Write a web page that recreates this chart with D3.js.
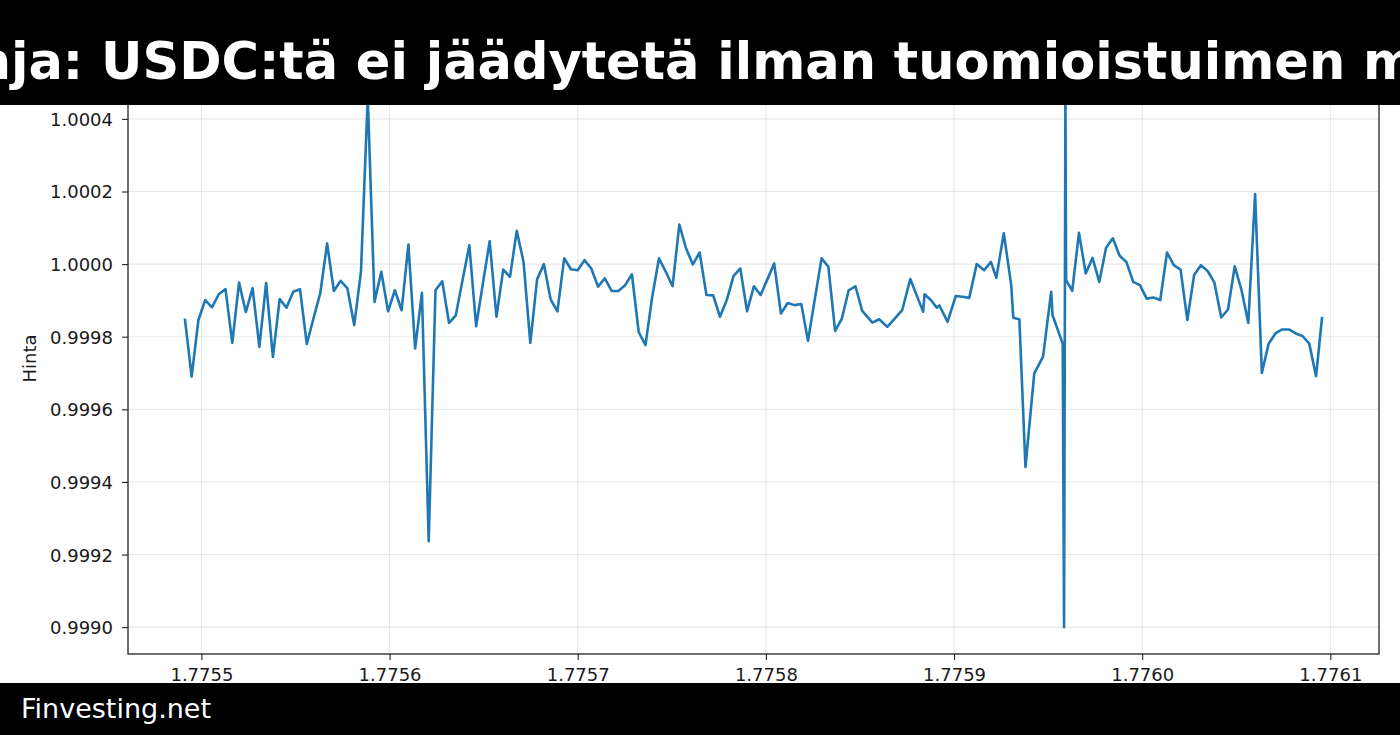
<!DOCTYPE html>
<html>
<head>
<meta charset="utf-8">
<title>USDC hinta</title>
<script src="https://cdn.jsdelivr.net/npm/d3@7/dist/d3.min.js"></script>
<style>
  html, body { margin: 0; padding: 0; background: #fff; }
  svg { display: block; font-family: 'DejaVu Sans', sans-serif; }
  .tick text { fill: #1a1a1a; font-size: 18px; }
</style>
</head>
<body>
<div id="chart"></div>
<script>
// hours since the first sample (start time below)
var startTime = 1775491200; // unix seconds
var hours = [
  0, 1, 2, 3, 4, 5, 6, 7, 8, 9, 10, 11, 12, 13, 14, 15, 16, 17, 18, 19,
  20, 21, 22, 23, 24, 25, 26, 27, 28, 29, 30, 31, 32, 33, 34, 35, 36, 37, 38, 39,
  40, 41, 42, 43, 44, 45, 46, 47, 48, 49, 50, 51, 52, 53, 54, 55, 56, 57, 58, 59,
  60, 61, 62, 63, 64, 65, 66, 67, 68, 69, 70, 71, 72, 73, 74, 75, 76, 77, 78, 79,
  80, 81, 82, 83, 84, 85, 86, 87, 88, 89, 90, 91, 92, 93, 94, 95, 96, 97, 98, 99,
  100, 101.5, 102.5, 103.7, 104.8, 105.9, 107.1, 108.0, 109.0, 109.2,
  110.2, 111.0, 111.4, 112.6, 113.8, 114.8, 115.8, 116.9, 118.0, 119.0,
  119.8, 120.9, 122.0, 122.3, 123.2, 124.1, 125.4, 126.7, 127.9, 128.1,
  129.6, 129.8, 130.0, 130.1, 131, 132, 133, 134, 135, 136, 137, 138, 139,
  140, 141, 142, 143, 144, 145, 146, 147, 148, 149, 150, 151, 152, 153, 154,
  155, 156, 157, 158, 159, 160, 161, 162, 163, 164, 165, 166, 167, 167.9
];
var prices = [
  0.999850, 0.999690, 0.999846, 0.999901, 0.999881, 0.999917, 0.999931, 0.999783, 0.999949, 0.999868,
  0.999934, 0.999772, 0.999948, 0.999744, 0.999904, 0.999880, 0.999924, 0.999931, 0.999780, 0.999851,
  0.999921, 1.000057, 0.999926, 0.999954, 0.999933, 0.999832, 0.999979, 1.000460, 0.999896, 0.999979,
  0.999870, 0.999928, 0.999873, 1.000054, 0.999768, 0.999921, 0.999237, 0.999928, 0.999953, 0.999838,
  0.999859, 0.999956, 1.000052, 0.999829, 0.999947, 1.000063, 0.999855, 0.999985, 0.999965, 1.000092,
  1.000006, 0.999783, 0.999958, 1.000000, 0.999903, 0.999870, 1.000016, 0.999986, 0.999983, 1.000011,
  0.999988, 0.999938, 0.999961, 0.999926, 0.999926, 0.999942, 0.999972, 0.999813, 0.999777, 0.999910,
  1.000016, 0.999979, 0.999939, 1.000109, 1.000043, 0.999999, 1.000032, 0.999915, 0.999914, 0.999855,
  0.999901, 0.999967, 0.999988, 0.999870, 0.999939, 0.999915, 0.999958, 1.000002, 0.999864, 0.999893,
  0.999887, 0.999890, 0.999789, 0.999903, 1.000016, 0.999993, 0.999816, 0.999850, 0.999928, 0.999939,
  0.999871, 0.999839, 0.999848, 0.999827, 0.999850, 0.999873, 0.999959, 0.999916, 0.999869, 0.999917,
  0.999900, 0.999880, 0.999886, 0.999841, 0.999912, 0.999910, 0.999907, 1.000000, 0.999983, 1.000006,
  0.999962, 1.000085, 0.999942, 0.999852, 0.999848, 0.999441, 0.999699, 0.999745, 0.999924, 0.999859,
  0.999781, 0.999000, 1.000480, 0.999956, 0.999926, 1.000086, 0.999974, 1.000017, 0.999951, 1.000045,
  1.000071, 1.000023, 1.000006, 0.999951, 0.999942, 0.999905, 0.999908, 0.999901, 1.000032, 0.999997,
  0.999985, 0.999846, 0.999970, 0.999997, 0.999981, 0.999949, 0.999853, 0.999875, 0.999994, 0.999928,
  0.999838, 1.000193, 0.999700, 0.999781, 0.999809, 0.999820, 0.999820, 0.999809, 0.999802, 0.999781,
  0.999691, 0.999855
];
var xTicks = [1.7755, 1.7756, 1.7757, 1.7758, 1.7759, 1.7760, 1.7761];
var yTicks = [0.9990, 0.9992, 0.9994, 0.9996, 0.9998, 1.0000, 1.0002, 1.0004];

var titleText = 'Circlen linja: USDC:tä ei jäädytetä ilman tuomioistuimen määräystä';
var yLabel = 'Hinta';
var footer = 'Finvesting.net';

var width = 1400, height = 735;
var margin = { top: 63, right: 21, bottom: 81, left: 128 };
var plotW = width - margin.left - margin.right;
var plotH = height - margin.top - margin.bottom;

var data = hours.map(function(h, i) {
  return { x: (startTime + h * 3600) / 1e9, y: prices[i] };
});

// matplotlib style 5% margins around the data
function padded(ext) {
  var p = (ext[1] - ext[0]) * 0.05;
  return [ext[0] - p, ext[1] + p];
}

var x = d3.scaleLinear()
  .domain(padded(d3.extent(data, function(d) { return d.x; })))
  .range([0, plotW]);
var y = d3.scaleLinear()
  .domain(padded(d3.extent(data, function(d) { return d.y; })))
  .range([plotH, 0]);

var svg = d3.select('#chart').append('svg')
  .attr('width', width)
  .attr('height', height);

svg.append('defs').append('clipPath').attr('id', 'plot-clip')
  .append('rect').attr('width', plotW).attr('height', plotH);

var g = svg.append('g')
  .attr('transform', 'translate(' + margin.left + ',' + margin.top + ')');

// grid
g.append('g').selectAll('line').data(xTicks).enter().append('line')
  .attr('x1', x).attr('x2', x).attr('y1', 0).attr('y2', plotH)
  .attr('stroke', '#b0b0b0').attr('stroke-opacity', 0.3).attr('stroke-width', 1.1);
g.append('g').selectAll('line').data(yTicks).enter().append('line')
  .attr('y1', y).attr('y2', y).attr('x1', 0).attr('x2', plotW)
  .attr('stroke', '#b0b0b0').attr('stroke-opacity', 0.3).attr('stroke-width', 1.1);

// price line
var line = d3.line()
  .x(function(d) { return x(d.x); })
  .y(function(d) { return y(d.y); });

g.append('path')
  .datum(data)
  .attr('clip-path', 'url(#plot-clip)')
  .attr('fill', 'none')
  .attr('stroke', '#1f77b4')
  .attr('stroke-width', 2.6)
  .attr('stroke-linejoin', 'round')
  .attr('d', line);

// axes
var xAxis = g.append('g')
  .attr('transform', 'translate(0,' + plotH + ')')
  .call(d3.axisBottom(x).tickValues(xTicks).tickFormat(d3.format('.4f'))
    .tickSizeInner(6).tickSizeOuter(0).tickPadding(8));
var yAxis = g.append('g')
  .call(d3.axisLeft(y).tickValues(yTicks).tickFormat(d3.format('.4f'))
    .tickSizeInner(6).tickSizeOuter(0).tickPadding(9));

[xAxis, yAxis].forEach(function(a) {
  a.select('.domain').remove();
  a.selectAll('.tick line').attr('stroke', '#222').attr('stroke-width', 1.1);
  a.selectAll('.tick text').attr('font-family', 'DejaVu Sans').attr('font-size', 18);
});
yAxis.selectAll('.tick text').attr('dy', '0.36em');

// spines
g.append('rect')
  .attr('width', plotW).attr('height', plotH)
  .attr('fill', 'none').attr('stroke', '#222').attr('stroke-width', 1.3);

// y label
svg.append('text')
  .attr('transform', 'translate(36,' + (margin.top + plotH / 2) + ') rotate(-90)')
  .attr('text-anchor', 'middle')
  .attr('font-size', 18)
  .attr('fill', '#1a1a1a')
  .text(yLabel);

// title bar
svg.append('rect').attr('x', 0).attr('y', 0).attr('width', width).attr('height', 105).attr('fill', '#000');
var title = svg.append('text')
  .attr('y', 79)
  .attr('font-size', 51)
  .attr('font-weight', 'bold')
  .attr('fill', '#fff')
  .text(titleText);
var preLen = title.node().getSubStringLength(0, titleText.indexOf('USDC'));
title.attr('x', 101 - preLen);

// footer bar
svg.append('rect').attr('x', 0).attr('y', 683).attr('width', width).attr('height', height - 683).attr('fill', '#000');
svg.append('text')
  .attr('x', 21).attr('y', 718)
  .attr('font-size', 27)
  .attr('fill', '#fff')
  .text(footer);
</script>
</body>
</html>
